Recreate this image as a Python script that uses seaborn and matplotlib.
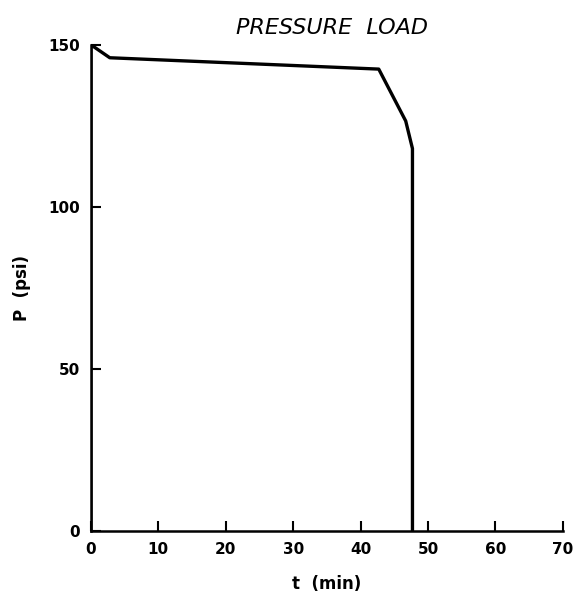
import matplotlib
matplotlib.use("Agg")
from matplotlib import pyplot as plt
import pandas as pd
import seaborn as sns

# pressure load history
t_min = [0.0, 0.0, 2.8, 42.7, 46.7, 47.7, 47.7]
p_psi = [0.0, 150.0, 146.0, 142.5, 126.5, 118.0, 0.0]
x_ticks = [0, 10, 20, 30, 40, 50, 60, 70]
y_ticks = [0, 50, 100, 150]

df = pd.DataFrame({'t': t_min, 'P': p_psi})

sns.set_style('ticks')
plt.rcParams['font.family'] = ['DejaVu Sans']
plt.rcParams['text.color'] = 'black'
plt.rcParams['axes.labelcolor'] = 'black'

fig = plt.figure(figsize=(5.79, 5.97), dpi=100)
ax = fig.add_axes([0.157, 0.110, 0.815, 0.815])

sns.lineplot(data=df, x='t', y='P', sort=False, estimator=None,
             color='black', linewidth=2.4, ax=ax)

ax.set_xlim(0, 70)
ax.set_ylim(0, 150)
ax.set_xticks(x_ticks)
ax.set_yticks(y_ticks)
ax.set_xticklabels([str(v) for v in x_ticks], fontsize=11, fontweight='bold')
ax.set_yticklabels([str(v) for v in y_ticks], fontsize=11, fontweight='bold')
ax.tick_params(direction='in', length=7, width=1.5, colors='black', pad=8)

for side in ['top', 'right']:
    ax.spines[side].set_visible(False)
for side in ['left', 'bottom']:
    ax.spines[side].set_linewidth(1.8)
    ax.spines[side].set_color('black')

ax.set_title('PRESSURE  LOAD', fontsize=16, fontstyle='italic',
             pad=8, color='black', x=0.51)
ax.set_xlabel('t  (min)', fontsize=12, fontweight='bold', labelpad=13)
ax.set_ylabel('P  (psi)', fontsize=12, fontweight='bold', labelpad=12)

plt.savefig('out.png', dpi=100)
